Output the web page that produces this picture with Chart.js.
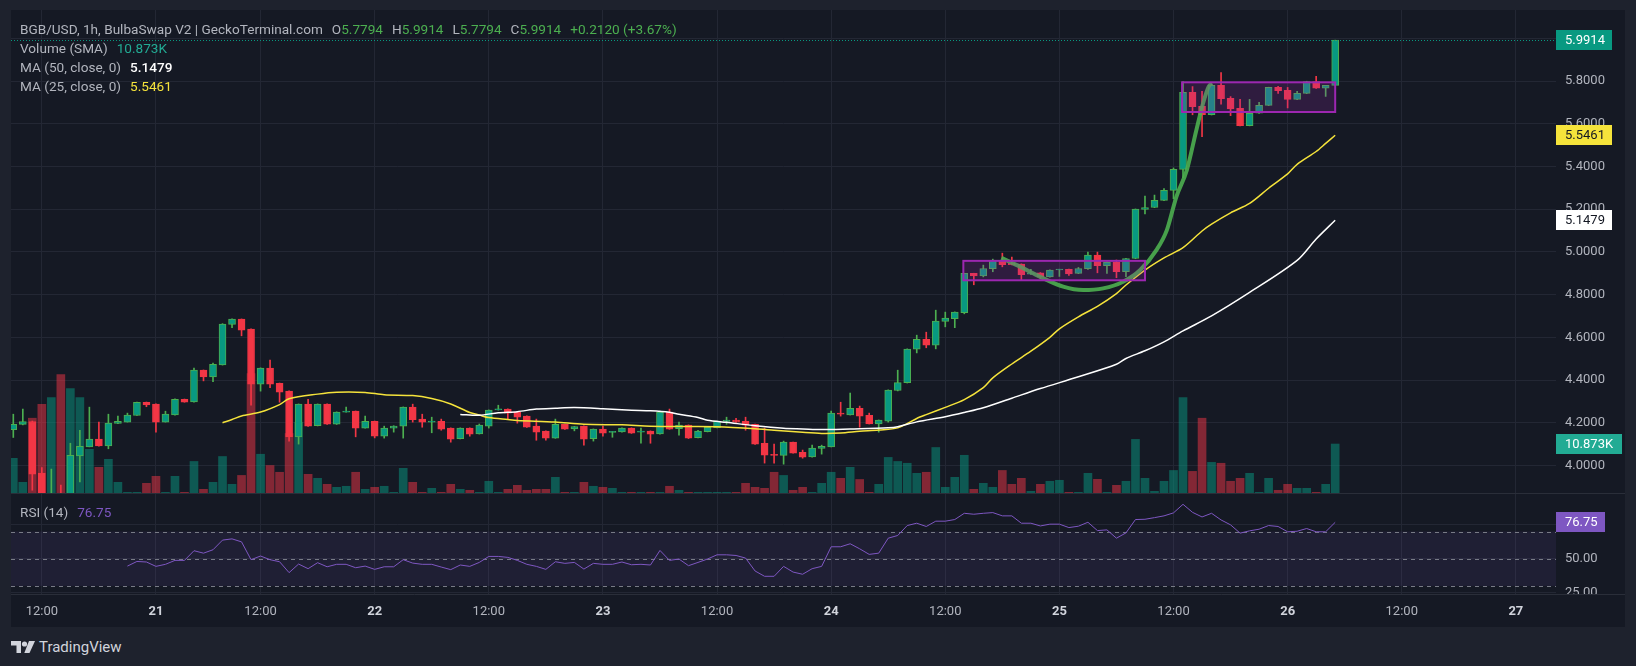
<!DOCTYPE html>
<html>
<head>
<meta charset="utf-8">
<script src="https://cdn.jsdelivr.net/npm/chart.js@4.4.1/dist/chart.umd.min.js"></script>
<style>
  html, body { margin: 0; padding: 0; }
  body { width: 1636px; height: 666px; background: #1e222d; position: relative; overflow: hidden;
         font-family: Roboto, "Liberation Sans", sans-serif; }
  #frame { position: absolute; left: 11px; top: 10px; width: 1614px; height: 617px; background: #151924; }
  canvas { position: absolute; }
  #price { left: 11px; top: 10px; }
  #rsi { left: 11px; top: 493px; }
  .legend { position: absolute; left: 20px; font-size: 13.6px; color: #b2b5be; white-space: nowrap; line-height: 19px; z-index: 2; }
  .legend b { font-weight: normal; }
  .sp { margin-left: 9px; }
  .g { color: #4caf50; }
  #logo { position: absolute; left: 11px; top: 638px; color: #d1d4dc; font-size: 15px; line-height: 18px; }
  #logo svg { vertical-align: -2px; margin-right: 4px; }
</style>
</head>
<body>
<div id="frame"></div>
<canvas id="price" width="1614" height="483" style="width:1614px;height:483px"></canvas>
<canvas id="rsi" width="1614" height="134" style="width:1614px;height:134px"></canvas>

<div class="legend" style="top:19.5px">BGB/USD, 1h, BulbaSwap V2 | GeckoTerminal.com<span class="sp">O<b class="g">5.7794</b></span><span class="sp">H<b class="g">5.9914</b></span><span class="sp">L<b class="g">5.7794</b></span><span class="sp">C<b class="g">5.9914</b></span><span class="sp g">+0.2120 (+3.67%)</span></div>
<div class="legend" style="top:38.5px">Volume (SMA)<span class="sp" style="color:#22ab94">10.873K</span></div>
<div class="legend" style="top:57.5px">MA (50, close, 0)<span class="sp" style="color:#ffffff;font-weight:500">5.1479</span></div>
<div class="legend" style="top:76.5px">MA (25, close, 0)<span class="sp" style="color:#f5e33b">5.5461</span></div>
<div class="legend" style="top:502.5px">RSI (14)<span class="sp" style="color:#7e57c2">76.75</span></div>
<div id="logo"><svg width="24" height="14" viewBox="0 0 24 14"><path d="M0 1h10v12h-4.5v-7.5h-5.5z" fill="#d1d4dc"/><circle cx="13.5" cy="4" r="2.6" fill="#d1d4dc"/><path d="M18 1h6l-5.5 12h-5.2z" fill="#d1d4dc"/></svg>TradingView</div>

<script>
// time axis: one slot per hourly bar, 20 09:00 is bar 0
const tickIdx = [3, 15, 26, 38, 50, 62, 74, 86, 98, 110, 122, 134, 146, 158];
const tickLbl = ['12:00', '21', '12:00', '22', '12:00', '23', '12:00', '24', '12:00', '25', '12:00', '26', '12:00', '27'];
const priceTicks = [4.0, 4.2, 4.4, 4.6, 4.8, 5.0, 5.2, 5.4, 5.6, 5.8, 6.0];
const rsiTicks = [25, 50, 75];

const open = [4.168,4.192,4.206,3.964,3.845,3.860,3.850,4.045,4.087,4.123,
  4.092,4.197,4.203,4.234,4.296,4.287,4.203,4.237,4.310,4.298,
  4.446,4.414,4.471,4.660,4.685,4.638,4.381,4.456,4.385,4.348,
  4.134,4.287,4.186,4.287,4.193,4.250,4.254,4.175,4.207,4.137,
  4.175,4.184,4.273,4.217,4.203,4.207,4.175,4.125,4.175,4.148,
  4.184,4.260,4.264,4.249,4.231,4.184,4.161,4.128,4.193,4.171,
  4.184,4.125,4.170,4.155,4.157,4.175,4.156,4.161,4.148,4.250,
  4.172,4.189,4.130,4.158,4.177,4.206,4.212,4.207,4.193,4.104,
  4.050,4.047,4.109,4.062,4.040,4.080,4.087,4.245,4.237,4.268,
  4.235,4.195,4.207,4.351,4.388,4.545,4.591,4.563,4.674,4.687,
  4.715,4.899,4.888,4.921,4.960,4.946,4.943,4.896,4.902,4.883,
  4.915,4.918,4.899,4.921,4.985,4.935,4.952,4.907,4.969,5.199,
  5.208,5.241,5.288,5.386,5.747,5.681,5.642,5.780,5.719,5.672,
  5.591,5.649,5.686,5.770,5.756,5.714,5.742,5.798,5.766,5.7794];
const high = [4.240,4.264,4.208,3.990,3.983,3.908,4.104,4.165,4.273,4.203,
  4.240,4.231,4.245,4.297,4.297,4.288,4.254,4.312,4.311,4.456,
  4.447,4.479,4.664,4.687,4.686,4.640,4.457,4.493,4.386,4.349,
  4.288,4.310,4.288,4.288,4.251,4.273,4.255,4.231,4.208,4.184,
  4.186,4.274,4.287,4.240,4.226,4.217,4.176,4.176,4.176,4.194,
  4.260,4.282,4.265,4.250,4.232,4.217,4.162,4.217,4.194,4.183,
  4.185,4.171,4.184,4.159,4.176,4.176,4.175,4.162,4.254,4.264,
  4.203,4.190,4.165,4.180,4.208,4.226,4.221,4.226,4.194,4.175,
  4.100,4.114,4.110,4.072,4.095,4.095,4.254,4.296,4.339,4.278,
  4.245,4.213,4.354,4.446,4.546,4.610,4.624,4.727,4.718,4.719,
  4.900,4.900,4.938,4.966,4.994,4.976,4.944,4.918,4.903,4.916,
  4.919,4.919,4.927,4.999,4.999,4.953,4.962,4.970,5.201,5.261,
  5.266,5.297,5.393,5.798,5.774,5.752,5.788,5.840,5.727,5.714,
  5.714,5.700,5.771,5.775,5.770,5.752,5.799,5.822,5.779,5.9914];
const low = [4.131,4.190,3.884,3.820,3.825,3.830,3.840,3.923,4.087,4.090,
  4.078,4.196,4.203,4.234,4.275,4.156,4.203,4.236,4.296,4.296,
  4.396,4.392,4.470,4.645,4.607,4.282,4.348,4.364,4.296,4.114,
  4.100,4.183,4.185,4.192,4.192,4.249,4.134,4.174,4.129,4.128,
  4.156,4.128,4.203,4.179,4.153,4.165,4.109,4.124,4.137,4.147,
  4.175,4.259,4.217,4.198,4.178,4.118,4.118,4.127,4.169,4.162,
  4.095,4.114,4.137,4.132,4.156,4.150,4.104,4.104,4.147,4.169,
  4.142,4.126,4.129,4.157,4.176,4.193,4.202,4.165,4.099,4.011,
  4.011,4.006,4.057,4.034,4.039,4.053,4.087,4.231,4.236,4.179,
  4.194,4.156,4.203,4.349,4.386,4.527,4.551,4.546,4.649,4.645,
  4.710,4.846,4.883,4.907,4.930,4.939,4.866,4.895,4.874,4.882,
  4.885,4.890,4.898,4.918,4.902,4.899,4.879,4.884,4.968,5.178,
  5.207,5.240,5.249,5.347,5.642,5.539,5.641,5.692,5.638,5.590,
  5.590,5.648,5.685,5.742,5.674,5.713,5.741,5.765,5.728,5.7794];
const close = [4.193,4.206,3.959,3.845,3.860,3.850,4.047,4.090,4.123,4.092,
  4.198,4.207,4.236,4.296,4.284,4.203,4.240,4.310,4.296,4.446,
  4.414,4.474,4.662,4.685,4.634,4.381,4.456,4.381,4.343,4.134,
  4.287,4.184,4.287,4.193,4.250,4.254,4.175,4.207,4.137,4.175,
  4.184,4.273,4.214,4.203,4.206,4.170,4.123,4.175,4.146,4.189,
  4.259,4.264,4.245,4.226,4.179,4.156,4.128,4.192,4.170,4.182,
  4.123,4.170,4.151,4.158,4.175,4.151,4.160,4.147,4.250,4.170,
  4.189,4.128,4.161,4.179,4.207,4.212,4.203,4.189,4.100,4.048,
  4.047,4.109,4.058,4.039,4.081,4.090,4.245,4.240,4.268,4.231,
  4.195,4.212,4.353,4.388,4.545,4.591,4.563,4.676,4.690,4.718,
  4.899,4.888,4.922,4.960,4.940,4.940,4.893,4.902,4.883,4.915,
  4.918,4.897,4.922,4.985,4.935,4.952,4.907,4.969,5.200,5.208,
  5.241,5.288,5.386,5.747,5.680,5.642,5.780,5.717,5.670,5.591,
  5.649,5.686,5.770,5.755,5.714,5.742,5.798,5.766,5.7794,5.9914];
// volume in K
const volume = [7.70,2.37,16.6,19.7,21.2,26.3,23.2,21.2,9.7,5.7,
  7.48,2.37,0.15,0.15,2.15,3.7,0.15,3.7,0.15,7.0,
  0.82,2.37,8.1,1.93,3.9,26.5,8.6,6.1,4.6,13.2,
  15.7,4.15,3.26,1.93,1.26,1.49,4.6,0.82,1.26,1.49,
  0.15,5.48,2.37,0.15,1.04,0.15,1.93,0.82,0.6,0.15,
  2.6,0.15,0.82,1.7,0.6,0.82,0.82,3.48,0.15,0.15,
  2.37,1.49,1.26,1.04,0.15,0.15,0.15,0.15,0.15,1.49,
  0.6,0.15,0.15,0.15,0.15,0.15,0.15,2.15,1.26,1.04,
  4.6,3.9,0.6,1.26,0.15,2.15,4.6,3.26,5.7,3.0,
  0.15,1.93,7.9,7.0,6.6,4.37,4.6,10.1,1.26,3.48,
  8.37,0.82,2.15,1.26,5.0,1.93,3.26,0.37,1.93,2.6,
  2.82,0.15,0.15,4.37,3.04,0.15,1.7,2.6,11.9,3.26,
  0.37,2.6,5.0,21.2,4.8,16.6,6.8,6.6,2.6,3.26,
  4.37,0.15,3.26,0.6,1.93,1.04,1.04,0.15,1.93,10.873];
const rsi = [null,null,null,null,null,null,null,null,null,null,null,null,
  44.6,48.0,47.6,44.4,45.9,48.8,48.8,55.9,
  54.1,56.6,63.7,64.6,62.4,49.3,52.0,49.3,47.8,39.8,
  46.1,42.7,47.1,44.1,45.9,45.9,43.4,44.6,42.2,44.1,
  44.1,49.3,46.8,45.9,45.9,43.9,42.0,45.4,44.4,47.3,
  51.7,51.7,51.0,48.8,45.9,44.4,42.2,47.8,46.6,47.3,
  42.4,46.6,45.9,45.9,47.6,45.6,45.9,45.4,56.1,48.8,
  49.8,44.9,47.3,49.8,52.9,52.9,52.4,50.5,41.0,37.1,
  37.1,44.4,40.2,38.6,42.7,44.4,58.8,58.8,61.0,57.3,
  53.2,54.1,65.1,67.1,74.4,76.1,73.7,77.6,77.6,78.8,
  83.4,82.7,83.4,83.9,81.5,81.5,76.1,76.1,74.1,75.4,
  75.4,72.9,73.9,76.8,70.7,71.2,65.1,69.0,78.8,79.0,
  80.2,81.5,83.7,90.0,84.1,80.7,83.4,78.5,74.9,68.8,
  70.5,71.7,74.4,73.7,69.8,70.2,72.2,69.8,69.8,76.75];
// moving averages: [bar, value]
const ma25 = [[22,4.200],[23,4.215],[24,4.232],[26,4.250],[28,4.285],[29,4.312],[32,4.334],[34,4.343],
  [37,4.342],[39,4.331],[42,4.327],[44,4.313],[46,4.288],[48,4.248],[49,4.236],[50,4.224],[52,4.215],
  [53,4.211],[57,4.203],[60,4.193],[64,4.190],[67,4.184],[71,4.182],[74,4.181],[78,4.172],[80,4.165],
  [83,4.155],[85,4.150],[87,4.152],[89,4.160],[91,4.166],[93,4.176],[95,4.220],[96,4.238],[98,4.272],
  [100,4.308],[102,4.364],[103,4.410],[105,4.475],[107,4.535],[109,4.600],[110,4.640],[112,4.696],
  [114,4.745],[116,4.805],[117,4.845],[119,4.915],[121,4.972],[123,5.020],[125,5.098],[126,5.130],
  [128,5.183],[130,5.227],[132,5.298],[134,5.365],[135,5.410],[137,5.470],[138,5.508],[139,5.5461]];
const ma50 = [[47,4.239],[49,4.235],[51,4.247],[53,4.252],[55,4.264],[57,4.268],[59,4.271],[62,4.266],
  [65,4.259],[67,4.256],[69,4.249],[70,4.240],[72,4.225],[73,4.212],[75,4.202],[78,4.186],[81,4.174],
  [83,4.171],[85,4.168],[88,4.171],[92,4.176],[93,4.181],[95,4.204],[98,4.228],[100,4.248],[102,4.270],
  [105,4.315],[108,4.360],[112,4.415],[116,4.474],[117,4.501],[119,4.537],[121,4.579],[123,4.630],
  [126,4.700],[130,4.810],[135,4.960],[137,5.060],[139,5.1479]];

// user drawings (in bar / price units)
const arcI = [103.9, 105.9, 108.0, 110.4, 112.5, 114.6, 116.7, 118.5, 120.2, 121.3, 122.3, 123.4, 124.4, 125.1, 125.7, 126.0];
const arcP = [4.972, 4.930, 4.883, 4.837, 4.821, 4.829, 4.860, 4.915, 5.008, 5.102, 5.258, 5.383, 5.570, 5.695, 5.774, 5.789];
const boxFrom = [99.9, 122.9];
const boxTo = [119.0, 139.0];
const boxLo = [4.867, 5.655];
const boxHi = [4.958, 5.794];

const lastPrice = 5.9914, lastMa25 = 5.5461, lastMa50 = 5.1479, lastVol = 10.873, lastRsi = 76.75;

const xMin = -0.242, xMax = 162.22;
const gridCol = '#232734';
const axisTxt = '#b2b5be';
const UP = '#089981', UPB = '#4caf50', DN = '#f23645';

Chart.defaults.font.family = 'Roboto, "Liberation Sans", sans-serif';
Chart.defaults.font.size = 13;

const idx = open.map((_, i) => i);
const up = idx.map(i => close[i] >= open[i]);

function tag(ctx, x, y, w, text, bg, fg) {
  ctx.save();
  ctx.fillStyle = bg;
  ctx.fillRect(x, Math.round(y - 10), w, 20);
  ctx.fillStyle = fg;
  ctx.font = '13px Roboto, "Liberation Sans", sans-serif';
  ctx.textBaseline = 'middle';
  ctx.textAlign = 'left';
  ctx.fillText(text, x + 9, y + 0.5);
  ctx.restore();
}

const priceOverlay = {
  id: 'priceOverlay',
  afterDatasetsDraw(chart) {
    const { ctx, chartArea: a, scales: { x, y } } = chart;
    ctx.save();
    // purple range boxes
    boxFrom.forEach((b, k) => {
      const x0 = x.getPixelForValue(b), x1 = x.getPixelForValue(boxTo[k]);
      const y0 = y.getPixelForValue(boxHi[k]), y1 = y.getPixelForValue(boxLo[k]);
      ctx.fillStyle = 'rgba(156,39,176,0.2)';
      ctx.fillRect(x0, y0, x1 - x0, y1 - y0);
      ctx.strokeStyle = '#9c27b0';
      ctx.lineWidth = 2;
      ctx.strokeRect(x0, y0, x1 - x0, y1 - y0);
    });
    // last price dotted line
    const yp = Math.round(y.getPixelForValue(lastPrice)) + 0.5;
    ctx.strokeStyle = UP;
    ctx.lineWidth = 1;
    ctx.setLineDash([1, 2]);
    ctx.beginPath();
    ctx.moveTo(a.left, yp);
    ctx.lineTo(a.right, yp);
    ctx.stroke();
    ctx.restore();
  },
  afterDraw(chart) {
    const { ctx, chartArea: a, scales: { y, yv } } = chart;
    tag(ctx, a.right, y.getPixelForValue(lastPrice), 56, lastPrice.toFixed(4), UP, '#ffffff');
    tag(ctx, a.right, y.getPixelForValue(lastMa25), 56, lastMa25.toFixed(4), '#f5e33b', '#131722');
    tag(ctx, a.right, y.getPixelForValue(lastMa50), 56, lastMa50.toFixed(4), '#ffffff', '#131722');
    tag(ctx, a.right, yv.getPixelForValue(lastVol), 66, lastVol.toFixed(3) + 'K', '#22ab94', '#ffffff');
  }
};

new Chart(document.getElementById('price'), {
  type: 'bar',
  data: {
    datasets: [
      {
        type: 'line', data: arcI.map((v, k) => ({ x: v, y: arcP[k] })),
        borderColor: 'rgba(76,175,80,0.9)', borderWidth: 4, pointRadius: 0,
        cubicInterpolationMode: 'monotone', order: 0
      },
      {
        type: 'line', data: ma50.map(([v, p]) => ({ x: v, y: p })),
        borderColor: '#ffffff', borderWidth: 1.5, pointRadius: 0, tension: 0.3, order: 1
      },
      {
        type: 'line', data: ma25.map(([v, p]) => ({ x: v, y: p })),
        borderColor: '#f5e33b', borderWidth: 1.5, pointRadius: 0, tension: 0.3, order: 1
      },
      {
        data: idx.map(i => ({ x: i, y: [open[i], close[i]] })),
        backgroundColor: up.map(u => u ? UP : DN),
        borderColor: up.map(u => u ? UPB : DN),
        borderWidth: 1, borderSkipped: false, barThickness: 7, minBarLength: 1,
        grouped: false, order: 2
      },
      {
        data: idx.map(i => ({ x: i, y: [low[i], high[i]] })),
        backgroundColor: up.map(u => u ? UPB : DN),
        barThickness: 1, grouped: false, order: 3
      },
      {
        data: idx.map(i => ({ x: i, y: volume[i] })), yAxisID: 'yv',
        backgroundColor: up.map(u => u ? 'rgba(8,153,129,0.5)' : 'rgba(242,54,69,0.5)'),
        barThickness: 8, grouped: false, order: 4
      }
    ]
  },
  options: {
    responsive: false, animation: false, devicePixelRatio: 1,
    layout: { padding: 0, autoPadding: false },
    plugins: { legend: { display: false }, tooltip: { enabled: false } },
    scales: {
      x: {
        type: 'linear', min: xMin, max: xMax, offset: false,
        grid: { color: gridCol, offset: false, drawTicks: false },
        border: { display: false },
        ticks: { display: false },
        afterBuildTicks: s => { s.ticks = tickIdx.map(v => ({ value: v })); },
        afterFit: s => { s.height = 0; s.paddingLeft = 0; s.paddingRight = 0; }
      },
      y: {
        position: 'right', min: 3.871, max: 6.1326,
        grid: { color: gridCol, drawTicks: false },
        border: { display: false },
        ticks: { color: axisTxt, padding: 9, autoSkip: false, callback: v => v.toFixed(4) },
        afterBuildTicks: s => { s.ticks = priceTicks.map(v => ({ value: v })); },
        afterFit: s => { s.width = 69; s.paddingTop = 0; s.paddingBottom = 0; }
      },
      yv: { display: false, min: 0, max: 107.2 }
    }
  },
  plugins: [priceOverlay]
});

const rsiOverlay = {
  id: 'rsiOverlay',
  beforeDatasetsDraw(chart) {
    const { ctx, chartArea: a, scales: { y } } = chart;
    ctx.save();
    const y70 = y.getPixelForValue(70), y30 = y.getPixelForValue(30);
    ctx.fillStyle = 'rgba(126,87,194,0.1)';
    ctx.fillRect(a.left, y70, a.right - a.left, y30 - y70);
    ctx.strokeStyle = '#787b86';
    ctx.lineWidth = 1;
    ctx.setLineDash([4, 4]);
    [70, 50, 30].forEach(v => {
      const yy = Math.round(y.getPixelForValue(v)) + 0.5;
      ctx.beginPath();
      ctx.moveTo(a.left, yy);
      ctx.lineTo(a.right, yy);
      ctx.stroke();
    });
    ctx.restore();
  },
  afterDraw(chart) {
    const { ctx, chartArea: a, scales: { y }, width, height } = chart;
    ctx.save();
    // the lowest price-scale label is cut by the pane edge
    ctx.fillStyle = '#151924';
    ctx.fillRect(a.right, a.bottom, width - a.right, height - a.bottom);
    ctx.strokeStyle = '#2a2e39';
    ctx.lineWidth = 1;
    ctx.beginPath();
    ctx.moveTo(0, 0.5); ctx.lineTo(width, 0.5);
    ctx.moveTo(0, a.bottom + 0.5); ctx.lineTo(width, a.bottom + 0.5);
    ctx.stroke();
    ctx.restore();
    tag(ctx, a.right, y.getPixelForValue(lastRsi), 49, lastRsi.toFixed(2), '#7e57c2', '#ffffff');
  }
};

const isDay = c => !!(c && c.tick) && tickLbl[tickIdx.indexOf(c.tick.value)] !== '12:00';

new Chart(document.getElementById('rsi'), {
  type: 'line',
  data: {
    datasets: [{
      data: idx.map(i => ({ x: i, y: rsi[i] })),
      borderColor: '#7e57c2', borderWidth: 1, pointRadius: 0
    }]
  },
  options: {
    responsive: false, animation: false, devicePixelRatio: 1,
    layout: { padding: 0, autoPadding: false },
    plugins: { legend: { display: false }, tooltip: { enabled: false } },
    scales: {
      x: {
        type: 'linear', min: xMin, max: xMax, offset: false,
        grid: { color: gridCol, drawTicks: false },
        border: { display: false },
        ticks: {
          padding: 10, autoSkip: false, maxRotation: 0,
          color: c => isDay(c) ? '#d1d4dc' : axisTxt,
          font: c => ({ size: 13, weight: isDay(c) ? 'bold' : 'normal' }),
          callback: v => tickLbl[tickIdx.indexOf(v)]
        },
        afterBuildTicks: s => { s.ticks = tickIdx.map(v => ({ value: v })); },
        afterFit: s => { s.height = 33; s.paddingLeft = 0; s.paddingRight = 0; }
      },
      y: {
        position: 'right', min: 24.1, max: 98.3,
        grid: { color: gridCol, drawTicks: false },
        border: { display: false },
        ticks: { color: axisTxt, padding: 9, autoSkip: false, callback: v => v.toFixed(2) },
        afterBuildTicks: s => { s.ticks = rsiTicks.map(v => ({ value: v })); },
        afterFit: s => { s.width = 69; s.paddingTop = 0; s.paddingBottom = 0; }
      }
    }
  },
  plugins: [rsiOverlay]
});
</script>
</body>
</html>
